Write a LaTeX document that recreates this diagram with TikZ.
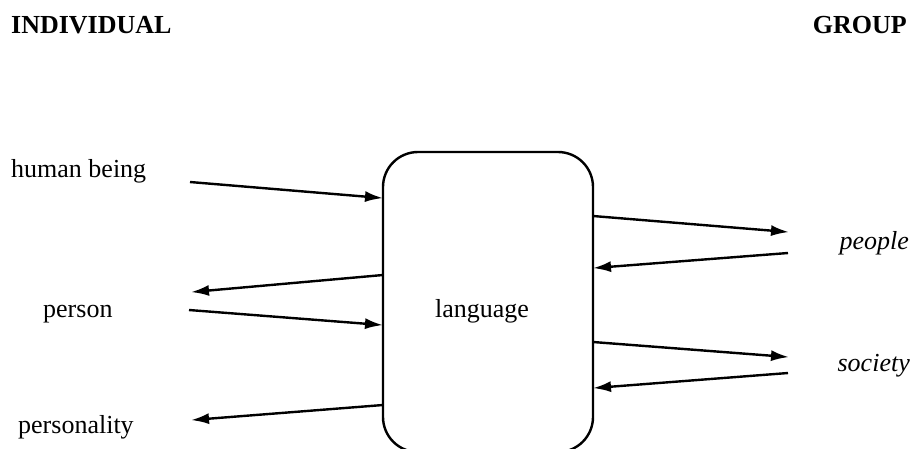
\documentclass[tikz,border=0pt]{standalone}
\usepackage{fontspec}
\setmainfont{Liberation Serif}
\usetikzlibrary{arrows.meta}
\begin{document}
\begin{tikzpicture}[x=1pt,y=-1pt,
  lbl/.style={inner sep=0pt,font=\fontsize{26}{30}\selectfont},
  head/.style={inner sep=0pt,font=\fontsize{26}{30}\selectfont\bfseries},
  grp/.style={inner sep=0pt,font=\fontsize{26}{30}\selectfont\itshape},
  flow/.style={line width=2.4pt,-{Latex[length=18pt,width=11pt]},shorten >=-1pt},
  core/.style={draw,line width=2.4pt,rounded corners=35pt,minimum width=210pt,minimum height=300pt,inner sep=0pt}]
\useasboundingbox (0,0) rectangle (912,448);

% headings
\node[head,anchor=base west] (ind) at (11,33) {INDIVIDUAL};
\node[head,anchor=base east] (grp) at (907,33) {GROUP};

% central box
\node[core] (lang) at (488,302) {};
\node[lbl,anchor=base] (langtxt) at (482,317) {language};

% individual side
\node[lbl,anchor=base west] (hb) at (11,177) {human being};
\node[lbl,anchor=base west] (per) at (43,317) {person};
\node[lbl,anchor=base west] (pers) at (18,433) {personality};

% group side
\node[grp,anchor=base east] (peo) at (909,249) {people};
\node[grp,anchor=base east] (soc) at (910,371) {society};

% arrow ends
\coordinate (hbA) at (190,182);   \coordinate (lA) at (382,198);
\coordinate (perB) at (192,292);  \coordinate (lB) at (383,275);
\coordinate (perC) at (189,310);  \coordinate (lC) at (382,325);
\coordinate (persD) at (192,420); \coordinate (lD) at (383,405);
\coordinate (peoE) at (788,232);  \coordinate (lE) at (593,216);
\coordinate (peoF) at (788,253);  \coordinate (lF) at (594,268);
\coordinate (socG) at (788,357);  \coordinate (lG) at (593,342);
\coordinate (socH) at (788,373);  \coordinate (lH) at (594,388);

\draw[flow] (hbA) -- (lA);
\draw[flow] (lB) -- (perB);
\draw[flow] (perC) -- (lC);
\draw[flow] (lD) -- (persD);
\draw[flow] (lE) -- (peoE);
\draw[flow] (peoF) -- (lF);
\draw[flow] (lG) -- (socG);
\draw[flow] (socH) -- (lH);
\end{tikzpicture}
\end{document}
